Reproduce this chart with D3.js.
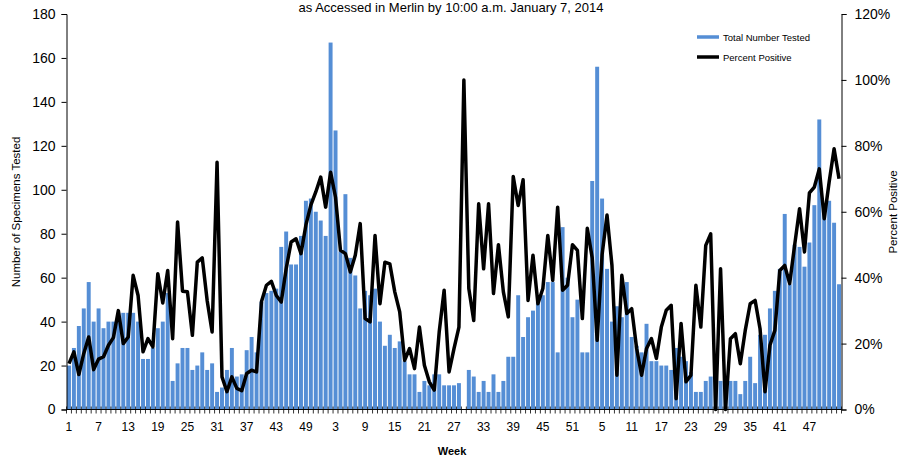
<!DOCTYPE html>
<html>
<head>
<meta charset="utf-8">
<script src="https://cdn.jsdelivr.net/npm/d3@7"></script>
<style>
  body { margin: 0; background: #fff; }
  svg text { font-family: "Liberation Sans", Arial, sans-serif; fill: #000; }
</style>
</head>
<body>
<div id="chart"></div>
<script>
// weeks: 3 surveillance years + week 1 of the next one
var weeks = [
  1,2,3,4,5,6,7,8,9,10,11,12,13,14,15,16,17,18,19,20,21,22,23,24,25,26,27,28,29,30,31,32,33,34,35,36,37,38,39,40,41,42,43,44,45,46,47,48,49,50,51,52,
  1,2,3,4,5,6,7,8,9,10,11,12,13,14,15,16,17,18,19,20,21,22,23,24,25,26,27,28,29,30,31,32,33,34,35,36,37,38,39,40,41,42,43,44,45,46,47,48,49,50,51,52,
  1,2,3,4,5,6,7,8,9,10,11,12,13,14,15,16,17,18,19,20,21,22,23,24,25,26,27,28,29,30,31,32,33,34,35,36,37,38,39,40,41,42,43,44,45,46,47,48,49,50,51,52,
  1
];

var totalTested = [
  20,28,38,46,58,40,46,37,40,40,44,44,44,44,40,23,23,28,37,40,53,13,21,28,28,18,
  20,26,18,21,8,10,18,28,15,16,27,33,26,49,53,54,55,74,81,66,66,79,95,96,90,86,
  79,167,127,72,98,69,61,46,54,52,55,40,29,34,28,31,22,16,16,8,13,11,16,16,11,11,
  11,12,0,18,15,8,13,8,16,8,13,24,24,52,33,42,45,49,52,58,58,26,83,60,42,50,
  26,26,104,156,96,64,40,47,42,58,33,29,26,39,22,22,20,20,18,28,24,22,17,8,8,13,
  15,13,13,13,13,13,7,13,24,12,34,34,46,54,64,89,57,75,74,65,76,93,132,92,95,85,
  57
];

var percentPositive = [
  13.9,17.5,10.6,17,22,12.1,15.3,16,19.5,21.8,30,20,22,40.7,34.6,17.5,21.5,19,41.2,32.3,42.2,21.5,56.9,35.9,35.7,22.5,
  44.7,46,33,23.5,75,9.9,5.4,9.9,6.4,5.7,10.9,11.9,11.4,32.8,37.7,38.9,34.6,32.6,42.7,50.8,51.8,47.3,56,62,66,70.5,
  61.4,72,64.4,48.3,47.3,41.7,46.8,56.4,27.6,26.6,52.8,32.1,44.7,44.2,35.7,29.6,14.9,18.5,12.4,25,13.4,8.4,5.9,23.5,36.2,11.4,
  18.5,25,100,36.7,27,62.4,42.7,62.4,35.2,50,35.7,28.1,70.7,61.9,69.7,33.1,46.8,32.1,36.7,52.8,39.2,61.4,36.2,37.7,50,48.3,
  27.6,55,46,21,47,59,43.7,10.4,40.7,29.1,30.6,18.5,10.4,18.5,21.5,15.5,25,30.1,31.6,3.3,26.1,8.4,10.4,37.7,25,49.8,
  53.3,0,42.7,0,21.5,23,13.9,24,32.1,33.1,24.5,5.4,19.5,24,42.2,43.7,38.2,49.8,60.9,47.8,65.7,67.5,73,57.9,69,79.1,
  70
];

var countTicks = [0, 20, 40, 60, 80, 100, 120, 140, 160, 180];
var pctTicks = [0, 20, 40, 60, 80, 100, 120];
var labelEvery = 6;

var svgWidth = 909;
var svgHeight = 460;
var plot = { left: 66.5, right: 841.5, top: 14, bottom: 409.5 };

var svg = d3.select("#chart")
  .append("svg")
  .attr("width", svgWidth)
  .attr("height", svgHeight);

var idx = d3.range(weeks.length);

var x = d3.scaleBand()
  .domain(idx)
  .range([plot.left, plot.right])
  .paddingInner(0.2)
  .paddingOuter(0.1);

var yCount = d3.scaleLinear().domain([0, 180]).range([plot.bottom, plot.top]);
var yPct = d3.scaleLinear().domain([0, 120]).range([plot.bottom, plot.top]);

// title
svg.append("text")
  .attr("x", 451)
  .attr("y", 12)
  .attr("text-anchor", "middle")
  .attr("font-size", 13)
  .text("as Accessed in Merlin by  10:00 a.m. January 7, 2014");

// bars
svg.append("g")
  .selectAll("rect")
  .data(idx)
  .enter()
  .append("rect")
  .attr("x", i => x(i))
  .attr("width", x.bandwidth())
  .attr("y", i => yCount(totalTested[i]))
  .attr("height", i => plot.bottom - yCount(totalTested[i]))
  .attr("fill", "#558ED5");

// line
var line = d3.line()
  .x(i => x(i) + x.bandwidth() / 2)
  .y(i => yPct(percentPositive[i]));

svg.append("path")
  .datum(idx)
  .attr("d", line)
  .attr("fill", "none")
  .attr("stroke", "#000")
  .attr("stroke-width", 3.5)
  .attr("stroke-linejoin", "round");

// left axis
var leftAxis = d3.axisLeft(yCount).tickValues(countTicks).tickSize(5).tickPadding(6);
var gl = svg.append("g")
  .attr("transform", `translate(${plot.left},0)`)
  .call(leftAxis);
gl.select(".domain").attr("stroke", "#000");
gl.selectAll(".tick line").attr("stroke", "#000");
gl.selectAll(".tick text").attr("font-size", 14).attr("font-family", "Liberation Sans, Arial, sans-serif");

// right axis
var rightAxis = d3.axisRight(yPct).tickValues(pctTicks).tickSize(5).tickPadding(8)
  .tickFormat(d => d + "%");
var gr = svg.append("g")
  .attr("transform", `translate(${plot.right},0)`)
  .call(rightAxis);
gr.select(".domain").attr("stroke", "#000");
gr.selectAll(".tick line").attr("stroke", "#000");
gr.selectAll(".tick text").attr("font-size", 14).attr("font-family", "Liberation Sans, Arial, sans-serif");

// x axis with a cross tick at every category boundary
var step = x.step();
var gx = svg.append("g");
gx.append("line")
  .attr("x1", plot.left).attr("x2", plot.right)
  .attr("y1", plot.bottom).attr("y2", plot.bottom)
  .attr("stroke", "#000");
gx.selectAll("line.tk")
  .data(d3.range(weeks.length + 1))
  .enter()
  .append("line")
  .attr("class", "tk")
  .attr("x1", i => plot.left + i * step)
  .attr("x2", i => plot.left + i * step)
  .attr("y1", plot.bottom - 3)
  .attr("y2", plot.bottom + 4)
  .attr("stroke", "#000")
  .attr("stroke-width", 0.8);

gx.selectAll("text")
  .data(idx.filter(i => i % labelEvery === 0 && i < weeks.length - 1))
  .enter()
  .append("text")
  .attr("x", i => x(i) + x.bandwidth() / 2)
  .attr("y", 431)
  .attr("text-anchor", "middle")
  .attr("font-size", 12)
  .text(i => weeks[i]);

// axis titles
svg.append("text")
  .attr("transform", "translate(20,212) rotate(-90)")
  .attr("text-anchor", "middle")
  .attr("font-size", 11.5)
  .text("Number of Specimens Tested");

svg.append("text")
  .attr("transform", "translate(897,212) rotate(-90)")
  .attr("text-anchor", "middle")
  .attr("font-size", 11.5)
  .text("Percent Positive");

svg.append("text")
  .attr("x", 452)
  .attr("y", 455)
  .attr("text-anchor", "middle")
  .attr("font-size", 11)
  .attr("font-weight", "bold")
  .text("Week");

// legend
var legend = svg.append("g").attr("transform", "translate(697,37)");
legend.append("line")
  .attr("x1", 0).attr("x2", 22).attr("y1", 0).attr("y2", 0)
  .attr("stroke", "#558ED5").attr("stroke-width", 3.5);
legend.append("text")
  .attr("x", 26).attr("y", 3.5)
  .attr("font-size", 9.5)
  .text("Total Number Tested");
legend.append("line")
  .attr("x1", 0).attr("x2", 22).attr("y1", 20).attr("y2", 20)
  .attr("stroke", "#000").attr("stroke-width", 3.5);
legend.append("text")
  .attr("x", 26).attr("y", 23.5)
  .attr("font-size", 9.5)
  .text("Percent Positive");
</script>
</body>
</html>
